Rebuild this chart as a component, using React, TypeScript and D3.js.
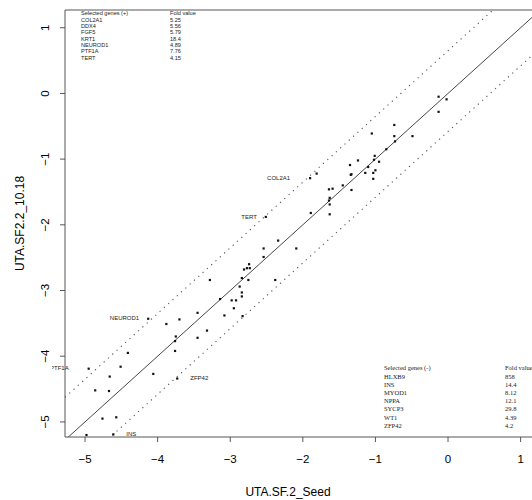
import React, { useEffect, useRef } from 'react';
import * as d3 from 'd3';

// log expression, UTA.SF.2_Seed (x) vs UTA.SF2.2_10.18 (y)
const seedValues = [
  -0.13, -0.02, -0.13, -0.74, -1.05, -0.74, -0.49, -0.73, -0.85, -1.01, -1.02, -1.24, -0.95,
  -1.10, -1.35, -1.00, -1.14, -1.03, -1.33, -1.03, -1.81, -1.90, -1.34, -1.45, -1.33, -1.59,
  -1.64, -1.63, -1.64, -1.63, -1.89, -1.63, -2.51, -2.34, -2.09, -2.54, -2.54, -2.74, -2.77,
  -2.73, -2.81, -2.84, -2.75, -3.28, -2.38, -2.87, -2.84, -2.84, -3.14, -2.98, -2.92, -2.95,
  -2.83, -3.45, -3.08, -3.70, -3.88, -3.75, -3.45, -3.32, -3.76, -4.41, -4.51, -4.95, -4.66,
  -4.06, -4.86, -4.67, -3.73, -4.76, -4.57, -4.98, -4.61, -3.76, -4.13,
];
const day18Values = [
  -0.05, -0.09, -0.28, -0.48, -0.61, -0.65, -0.65, -0.73, -0.85, -0.95, -1.01, -1.02, -1.04,
  -1.12, -1.09, -1.17, -1.21, -1.21, -1.23, -1.30, -1.22, -1.29, -1.24, -1.40, -1.47, -1.45,
  -1.46, -1.59, -1.63, -1.69, -1.82, -1.84, -1.88, -2.24, -2.36, -2.36, -2.49, -2.60, -2.66,
  -2.66, -2.68, -2.81, -2.84, -2.84, -2.84, -2.94, -3.03, -3.09, -3.13, -3.15, -3.15, -3.27,
  -3.39, -3.34, -3.38, -3.44, -3.51, -3.70, -3.72, -3.61, -3.92, -3.95, -4.16, -4.19, -4.31,
  -4.27, -4.52, -4.53, -4.34, -4.95, -4.93, -5.20, -5.19, -3.77, -3.43,
];

const ticks = [-5, -4, -3, -2, -1, 0, 1];
const bandOffsets = [0.65, -0.58];

const labelGenes = ['COL2A1', 'TERT', 'NEUROD1', 'PTF1A', 'ZFP42', 'INS'];
const labelSeed = [-1.90, -2.51, -4.13, -4.95, -3.73, -4.61];
const labelDay18 = [-1.29, -1.88, -3.43, -4.19, -4.34, -5.19];
const labelSide = ['left', 'left', 'left', 'left', 'right', 'right'];

const upGenes = ['COL2A1', 'DDX4', 'FGF5', 'KRT1', 'NEUROD1', 'PTF1A', 'TERT'];
const upFold = ['5.25', '5.56', '5.79', '18.4', '4.89', '7.76', '4.15'];
const downGenes = ['HLXB9', 'INS', 'MYOD1', 'NPPA', 'SYCP3', 'WT1', 'ZFP42'];
const downFold = ['858', '14.4', '8.12', '12.1', '29.8', '4.39', '4.2'];

const W = 532;
const H = 500;

const App = () => {
  const ref = useRef<SVGSVGElement>(null);

  useEffect(() => {
    const svg = d3.select(ref.current);
    svg.selectAll('*').remove();

    const left = 65, right = 540, top = 10, bottom = 437;
    const x = d3.scaleLinear().domain([-5.276, 1.267]).range([left, right]);
    const y = d3.scaleLinear().domain([-5.23, 1.27]).range([bottom, top]);

    svg.append('defs').append('clipPath').attr('id', 'plotclip')
      .append('rect').attr('x', left).attr('y', top)
      .attr('width', right - left).attr('height', bottom - top);
    svg.append('defs').append('clipPath').attr('id', 'labelclip')
      .append('rect').attr('x', 52).attr('y', top)
      .attr('width', right - 52).attr('height', bottom - top);

    const plot = svg.append('g').attr('clip-path', 'url(#plotclip)');
    const [x0, x1] = x.domain();

    // y = x and the fold bands
    plot.append('line')
      .attr('x1', x(x0)).attr('y1', y(x0))
      .attr('x2', x(x1)).attr('y2', y(x1))
      .attr('stroke', '#333').attr('stroke-width', 0.9);

    bandOffsets.forEach(off => {
      plot.append('line')
        .attr('x1', x(x0)).attr('y1', y(x0 + off))
        .attr('x2', x(x1)).attr('y2', y(x1 + off))
        .attr('stroke', '#555').attr('stroke-width', 1.1)
        .attr('stroke-dasharray', '1.2 4.6');
    });

    const pts = seedValues.map((s, i) => ({ s, v: day18Values[i] }));
    plot.selectAll('.pt')
      .data(pts)
      .enter().append('rect')
      .attr('class', 'pt')
      .attr('x', d => x(d.s) - 1.1)
      .attr('y', d => y(d.v) - 1.1)
      .attr('width', 2.2)
      .attr('height', 2.2)
      .attr('fill', '#111');

    // gene labels
    svg.append('g').attr('clip-path', 'url(#labelclip)')
      .selectAll('text')
      .data(labelGenes.map((g, i) => ({ g, s: labelSeed[i], v: labelDay18[i], side: labelSide[i] })))
      .enter().append('text')
      .attr('x', d => x(d.s) + (d.side === 'left' ? (d.g === 'COL2A1' ? -20 : d.g === 'PTF1A' ? -20 : -9) : 13))
      .attr('y', d => y(d.v))
      .attr('dominant-baseline', 'middle')
      .attr('text-anchor', d => (d.side === 'left' ? 'end' : 'start'))
      .attr('font-family', 'Liberation Sans, Arial, sans-serif')
      .attr('font-size', 6)
      .attr('fill', '#222')
      .text(d => d.g);

    // frame
    svg.append('path')
      .attr('d', `M${right},${top}H${left}V${bottom}H${right}`)
      .attr('fill', 'none')
      .attr('stroke', '#444')
      .attr('stroke-width', 0.9);

    // x axis
    const xa = svg.append('g');
    ticks.forEach(t => {
      xa.append('line').attr('x1', x(t)).attr('x2', x(t)).attr('y1', bottom).attr('y2', bottom + 5)
        .attr('stroke', '#444').attr('stroke-width', 0.9);
      xa.append('text').attr('x', x(t)).attr('y', 460)
        .attr('text-anchor', 'middle').attr('dominant-baseline', 'middle')
        .attr('font-family', 'Liberation Sans, Arial, sans-serif').attr('font-size', 11.5)
        .text(String(t).replace('-', '\u2212'));
    });
    xa.append('text').attr('x', 288).attr('y', 493)
      .attr('text-anchor', 'middle').attr('dominant-baseline', 'middle')
      .attr('font-family', 'Liberation Sans, Arial, sans-serif').attr('font-size', 12)
      .text('UTA.SF.2_Seed');

    // y axis
    const ya = svg.append('g');
    ticks.forEach(t => {
      ya.append('line').attr('x1', left).attr('x2', left - 5).attr('y1', y(t)).attr('y2', y(t))
        .attr('stroke', '#444').attr('stroke-width', 0.9);
      ya.append('text')
        .attr('transform', `translate(46,${y(t)}) rotate(-90)`)
        .attr('text-anchor', 'middle').attr('dominant-baseline', 'middle')
        .attr('font-family', 'Liberation Sans, Arial, sans-serif').attr('font-size', 11.5)
        .text(String(t).replace('-', '\u2212'));
    });
    ya.append('text')
      .attr('transform', `translate(21,${(top + bottom) / 2}) rotate(-90)`)
      .attr('text-anchor', 'middle').attr('dominant-baseline', 'middle')
      .attr('font-family', 'Liberation Sans, Arial, sans-serif').attr('font-size', 12)
      .text('UTA.SF2.2_10.18');

    // legend tables
    const upTable = svg.append('g')
      .attr('font-family', 'Liberation Sans, Arial, sans-serif').attr('font-size', 5.6).attr('fill', '#222');
    ['Selected genes (+)', ...upGenes].forEach((g, i) => {
      upTable.append('text').attr('x', 81).attr('y', 14 + i * 6.3).attr('dominant-baseline', 'middle').text(g);
    });
    ['Fold value', ...upFold].forEach((f, i) => {
      upTable.append('text').attr('x', 170).attr('y', 14 + i * 6.3).attr('dominant-baseline', 'middle').text(f);
    });

    const downTable = svg.append('g')
      .attr('font-family', 'Liberation Serif, Times New Roman, serif').attr('font-size', 6.5).attr('fill', '#222');
    ['Selected genes (-)', ...downGenes].forEach((g, i) => {
      downTable.append('text').attr('x', 384).attr('y', 369 + i * 8.2).attr('dominant-baseline', 'middle').text(g);
    });
    ['Fold value', ...downFold].forEach((f, i) => {
      downTable.append('text').attr('x', 505).attr('y', 369 + i * 8.2).attr('dominant-baseline', 'middle').text(f);
    });
  }, []);

  return (
    <div style={{ position: 'absolute', left: 0, top: 0, width: W, height: H, background: '#fff' }}>
      <svg ref={ref} width={W} height={H} style={{ display: 'block' }}></svg>
    </div>
  );
};

export default App;
